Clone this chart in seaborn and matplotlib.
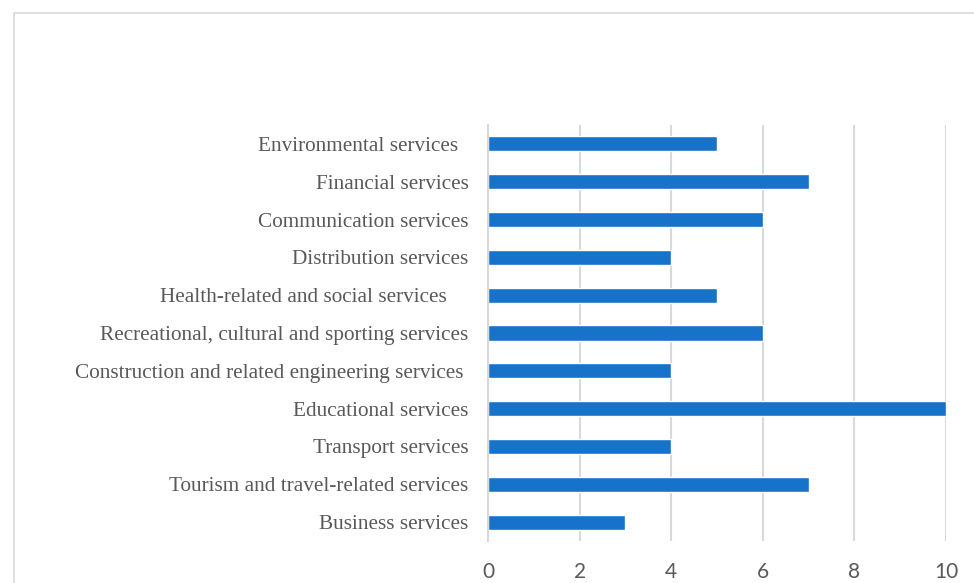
import matplotlib
matplotlib.use('Agg')
import matplotlib.pyplot as plt
import seaborn as sns
import pandas as pd
from matplotlib.patches import Rectangle

categories = [
  'Environmental services  ',
  'Financial services',
  'Communication services',
  'Distribution services',
  'Health-related and social services    ',
  'Recreational, cultural and sporting services',
  'Construction and related engineering services ',
  'Educational services',
  'Transport services',
  'Tourism and travel-related services',
  'Business services',
]
values = [5, 7, 6, 4, 5, 6, 4, 10, 4, 7, 3]
xticks = [0, 2, 4, 6, 8, 10]

df = pd.DataFrame({'category': categories, 'count': values})

sns.set_theme(style='white')
fig = plt.figure(figsize=(9.74, 5.83), dpi=100)
ax = fig.add_axes([488/974, 1-541/583, (946-488)/974, (541-125)/583])

sns.barplot(data=df, y='category', x='count', orient='h', color='#1772CA',
            width=0.4, saturation=1, ax=ax)

ax.set_xlim(0, 10)
ax.set_ylim(10.5, -0.5)
ax.set_xticks(xticks)
ax.xaxis.grid(True, color='#d9d9d9', linewidth=1.5)
ax.set_axisbelow(True)
for s in ['top', 'right', 'bottom']:
  ax.spines[s].set_visible(False)
ax.spines['left'].set_color('#d9d9d9')
ax.spines['left'].set_linewidth(1.5)
ax.set_xlabel('')
ax.set_ylabel('')
ax.tick_params(axis='both', length=0)
ax.tick_params(axis='y', pad=14)
ax.tick_params(axis='x', pad=15)
for lab in ax.get_yticklabels():
  lab.set_fontfamily('Liberation Serif')
  lab.set_fontsize(15.3)
  lab.set_color('#595959')
for lab in ax.get_xticklabels():
  lab.set_fontfamily('Lato')
  lab.set_fontsize(15)
  lab.set_color('#595959')

# outer chart border, cut off at right and bottom
fig.patches.append(Rectangle((14/974, -0.05), 1.0, 1-13/583+0.05, transform=fig.transFigure,
                             fill=False, edgecolor='#d9d9d9', linewidth=1.2))

fig.savefig('out.png', dpi=100)
